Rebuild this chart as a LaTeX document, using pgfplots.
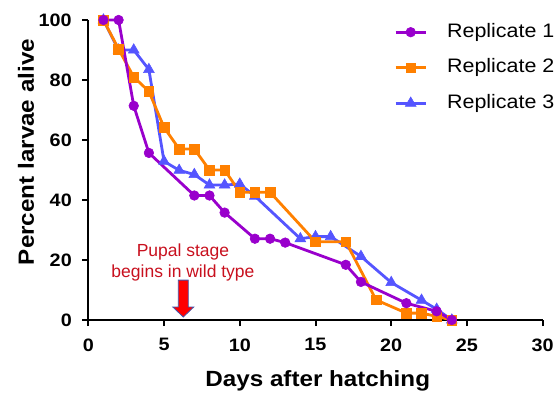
\documentclass[border=0pt]{standalone}
\usepackage{fontspec}
\setmainfont{Liberation Sans}[FakeStretch=1.1]
\newfontfamily\annfont{Liberation Sans}
\usepackage{pgfplots}
\pgfplotsset{compat=1.18}
\definecolor{rone}{RGB}{153,0,204}
\definecolor{rtwo}{RGB}{255,128,0}
\definecolor{rthree}{RGB}{85,85,255}
\definecolor{anncol}{RGB}{200,16,30}
\definecolor{arrowedge}{RGB}{68,84,170}

\pgfplotstableread{
x y
1 100
2 100
3 71.4
4 55.7
7 41.5
8 41.5
9 35.8
11 27.1
12 27.1
13 25.8
17 18.4
18 12.7
21 5.6
23 2.9
24 0
}\repone
\pgfplotstableread{
x y
1 100
2 90.3
3 81
4 76.2
5 64.2
6 57
7 57
8 50
9 50
10 42.6
11 42.6
12 42.6
15 26.1
17 26.1
19 6.7
21 2.3
22 2.3
23 1.2
24 0
}\reptwo
\pgfplotstableread{
x y
1 100
2 90
3 90
4 83.5
5 52.9
6 49.9
7 48.5
8 45
9 45
10 45.3
11 41.3
14 27.1
15 27.8
16 27.8
18 21.2
20 12.5
22 6.6
23 3.6
24 0
}\repthree

\begin{document}
\begin{tikzpicture}
\path[use as bounding box] (-88.3pt,-72pt) rectangle (468.7pt,320pt);
\begin{axis}[
  scale only axis, width=454.4pt, height=300pt,
  at={(0pt,0pt)}, anchor=south west,
  xmin=0, xmax=30, ymin=0, ymax=100,
  axis x line=bottom, axis y line=left,
  axis line style={-, line width=2pt, black},
  xtick={0,5,...,30}, ytick={0,20,...,100},
  tick align=outside, major tick length=6pt,
  tick style={line width=2pt, black},
  ticklabel style={font=\fontsize{18}{18}\selectfont\bfseries},
  xticklabel style={yshift=-9pt},
  yticklabel style={xshift=-7pt},
  /pgf/number format/assume math mode=true,
  clip=false,
  xlabel={Days after hatching}, ylabel={Percent larvae alive},
  label style={font=\fontsize{22}{22}\selectfont\bfseries},
  xlabel style={at={(axis description cs:0.505,-0.223)}, anchor=base},
  ylabel style={at={(axis description cs:-0.137,0.56)}, anchor=center},
  legend style={draw=none, fill=none, at={(0.673,0.99)}, anchor=north west,
    inner sep=0pt, row sep=17.5pt, font=\fontsize{19.5}{19.5}\selectfont,
    nodes={inner sep=0pt, text height=14pt, text depth=4pt},
    /tikz/every odd column/.append style={column sep=20pt}},
  legend cell align=left,
  legend image code/.code={\draw[mark repeat=2, mark phase=2] plot coordinates {(0pt,0pt)(15pt,0pt)(30pt,0pt)};},
  r1/.style={color=rone, line width=2.8pt, mark=*, mark size=4.8pt, mark options={solid, fill=rone, line width=0.6pt}},
  r2/.style={color=rtwo, line width=2.8pt, mark=square*, mark size=4.8pt, mark options={solid, fill=rtwo, line width=0.6pt}},
  r3/.style={color=rthree, line width=2.8pt, mark=triangle*, mark size=6.2pt, mark options={solid, fill=rthree, line width=0.6pt}},
]
\addlegendimage{r1}\addlegendentry{Replicate 1}
\addlegendimage{r2}\addlegendentry{Replicate 2}
\addlegendimage{r3}\addlegendentry{Replicate 3}
\addplot[r3, forget plot] table[x=x, y=y] {\repthree};
\addplot[r2, forget plot] table[x=x, y=y] {\reptwo};
\addplot[r1, forget plot] table[x=x, y=y] {\repone};
\path[fill=red, draw=arrowedge, line width=0.8pt] (axis cs:5.94,13.3) -- (axis cs:6.60,13.3) -- (axis cs:6.60,4.33) -- (axis cs:6.96,4.33) -- (axis cs:6.27,1) -- (axis cs:5.58,4.33) -- (axis cs:5.94,4.33) -- cycle;
\node[text=anncol, align=center, inner sep=0pt, font=\annfont\fontsize{17.5}{21}\selectfont] at (axis cs:6.25,19.3) {Pupal stage\\begins in wild type};
\end{axis}
\end{tikzpicture}
\end{document}
